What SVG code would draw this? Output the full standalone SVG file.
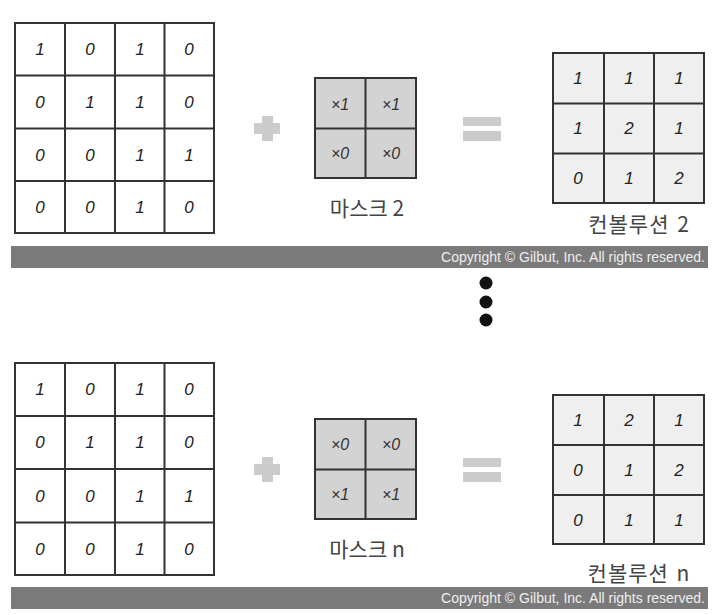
<svg xmlns="http://www.w3.org/2000/svg" width="718" height="615" viewBox="0 0 718 615">
<style>
.grid{fill:#ffffff;stroke:#333333;stroke-width:2}
.mask{fill:#d3d3d3;stroke:#333333;stroke-width:2}
.conv{fill:#efefef;stroke:#333333;stroke-width:2}
.ln{stroke:#333333;stroke-width:2;fill:none}
.d{font-family:"Liberation Sans",sans-serif;font-style:italic;font-size:17px;fill:#222222;text-anchor:middle;dominant-baseline:central}
.m{font-family:"Liberation Sans",sans-serif;font-style:italic;font-size:16px;fill:#333333;text-anchor:middle;dominant-baseline:central}
.lbl{font-family:"Noto Sans CJK KR",sans-serif;font-size:21px;fill:#444444;text-anchor:middle;dominant-baseline:central}
.wide{letter-spacing:1px;word-spacing:2px}
.op{fill:#cccccc}
.bar{fill:#7a7a7a}
.cp{font-family:"Liberation Sans",Arial,sans-serif;font-size:14px;fill:#eeeeee;text-anchor:end}
.dot{fill:#111111}
</style>

<g id="input1">
<rect class="grid" x="15" y="23" width="199" height="210"/>
<path class="ln" d="M65 23V233M115 23V233M164.5 23V233M15 75.5H214M15 128.5H214M15 181H214"/>
<text class="d" x="40" y="49">1</text><text class="d" x="90" y="49">0</text><text class="d" x="140" y="49">1</text><text class="d" x="189" y="49">0</text>
<text class="d" x="40" y="102">0</text><text class="d" x="90" y="102">1</text><text class="d" x="140" y="102">1</text><text class="d" x="189" y="102">0</text>
<text class="d" x="40" y="155">0</text><text class="d" x="90" y="155">0</text><text class="d" x="140" y="155">1</text><text class="d" x="189" y="155">1</text>
<text class="d" x="40" y="207">0</text><text class="d" x="90" y="207">0</text><text class="d" x="140" y="207">1</text><text class="d" x="189" y="207">0</text>
</g>

<g id="plus1"><path class="op" d="M262 116H273V123H280V134H273V141H262V134H254V123H262Z"/></g>

<g id="mask1">
<rect class="mask" x="315" y="78" width="101" height="100"/>
<path class="ln" d="M365.5 78V178M315 128.5H416"/>
<text class="m" x="340" y="104">×1</text><text class="m" x="391" y="104">×1</text>
<text class="m" x="340" y="153">×0</text><text class="m" x="391" y="153">×0</text>
<text class="lbl" x="367" y="207">마스크 2</text>
</g>

<g id="equals1"><rect class="op" x="463" y="117" width="38" height="9"/><rect class="op" x="463" y="131" width="38" height="10"/></g>

<g id="conv1">
<rect class="conv" x="553" y="53" width="151" height="150"/>
<path class="ln" d="M604 53V203M654 53V203M553 103.5H704M553 153.5H704"/>
<text class="d" x="578" y="78">1</text><text class="d" x="629" y="78">1</text><text class="d" x="679" y="78">1</text>
<text class="d" x="578" y="128">1</text><text class="d" x="629" y="128">2</text><text class="d" x="679" y="128">1</text>
<text class="d" x="578" y="178">0</text><text class="d" x="629" y="178">1</text><text class="d" x="679" y="178">2</text>
<text class="lbl wide" x="639" y="223">컨볼루션 2</text>
</g>

<g id="copyright1"><rect class="bar" x="11" y="246" width="697" height="22"/><text class="cp" x="705" y="262">Copyright © Gilbut, Inc. All rights reserved.</text></g>

<g id="ellipsis"><circle class="dot" cx="486" cy="283" r="6.5"/><circle class="dot" cx="486" cy="302" r="6.5"/><circle class="dot" cx="486" cy="320" r="6.5"/></g>

<g id="input2">
<rect class="grid" x="15" y="363" width="199" height="212"/>
<path class="ln" d="M65 363V575M115 363V575M164.5 363V575M15 416H214M15 469H214M15 522.5H214"/>
<text class="d" x="40" y="389">1</text><text class="d" x="90" y="389">0</text><text class="d" x="140" y="389">1</text><text class="d" x="189" y="389">0</text>
<text class="d" x="40" y="442">0</text><text class="d" x="90" y="442">1</text><text class="d" x="140" y="442">1</text><text class="d" x="189" y="442">0</text>
<text class="d" x="40" y="496">0</text><text class="d" x="90" y="496">0</text><text class="d" x="140" y="496">1</text><text class="d" x="189" y="496">1</text>
<text class="d" x="40" y="549">0</text><text class="d" x="90" y="549">0</text><text class="d" x="140" y="549">1</text><text class="d" x="189" y="549">0</text>
</g>

<g id="plus2"><path class="op" d="M262 457H273V464H280V475H273V482H262V475H254V464H262Z"/></g>

<g id="mask2">
<rect class="mask" x="315" y="419" width="101" height="100"/>
<path class="ln" d="M365.5 419V519M315 469.5H416"/>
<text class="m" x="340" y="444">×0</text><text class="m" x="391" y="444">×0</text>
<text class="m" x="340" y="494">×1</text><text class="m" x="391" y="494">×1</text>
<text class="lbl" x="367" y="548">마스크 n</text>
</g>

<g id="equals2"><rect class="op" x="463" y="458" width="38" height="9"/><rect class="op" x="463" y="472" width="38" height="10"/></g>

<g id="conv2">
<rect class="conv" x="553" y="395" width="151" height="149"/>
<path class="ln" d="M604 395V544M654 395V544M553 445H704M553 495H704"/>
<text class="d" x="578" y="420">1</text><text class="d" x="629" y="420">2</text><text class="d" x="679" y="420">1</text>
<text class="d" x="578" y="470">0</text><text class="d" x="629" y="470">1</text><text class="d" x="679" y="470">2</text>
<text class="d" x="578" y="520">0</text><text class="d" x="629" y="520">1</text><text class="d" x="679" y="520">1</text>
<text class="lbl wide" x="639" y="572">컨볼루션 n</text>
</g>

<g id="copyright2"><rect class="bar" x="11" y="587" width="697" height="22"/><text class="cp" x="705" y="603">Copyright © Gilbut, Inc. All rights reserved.</text></g>
</svg>
